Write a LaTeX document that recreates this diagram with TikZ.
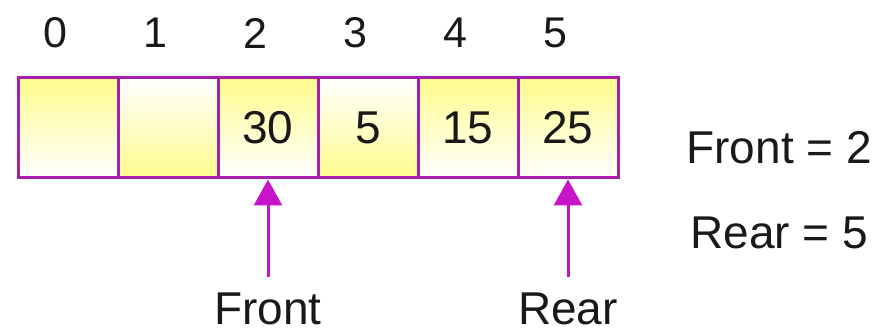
\documentclass[tikz,border=0pt]{standalone}
\usepackage{fontspec}
\setmainfont{Liberation Sans}
\usetikzlibrary{arrows.meta}
\definecolor{qborder}{RGB}{170,30,170}
\definecolor{qarrow}{RGB}{200,20,200}
\definecolor{qfill}{RGB}{255,252,140}
\definecolor{qtext}{RGB}{25,25,25}

\begin{document}
\begin{tikzpicture}[x=1pt,y=-1pt,font=\fontsize{46}{54}\selectfont,text=qtext,
cell/.style={draw=qborder,line width=3pt,minimum size=100pt,inner sep=0pt},
topy/.style={top color=qfill,bottom color=white},
boty/.style={top color=white,bottom color=qfill},
idx/.style={font=\fontsize{43}{50}\selectfont},
ptr/.style={-{Triangle[length=26pt,width=28pt]},qarrow,line width=3pt,shorten <=15pt}]
\useasboundingbox (0,0) rectangle (895,336);
\foreach \i/\v/\sh in {0//topy,1//boty,2/30/topy,3/5/boty,4/15/topy,5/25/topy} {
\node[cell,\sh] (c\i) at (68+100*\i,128) {\v};\node[idx] (n\i) at (55+100*\i,33) {\i};}
\node[inner sep=1pt] (fl) at (268,309) {Front};\node[inner sep=1pt] (rl) at (568,309) {Rear};
\draw[ptr] (fl.north)--(c2.south);\draw[ptr] (rl.north)--(c5.south);
\node[anchor=west] (fv) at (683,148) {Front = 2};\node[anchor=west] (rv) at (687,233) {Rear = 5};
\end{tikzpicture}
\end{document}
